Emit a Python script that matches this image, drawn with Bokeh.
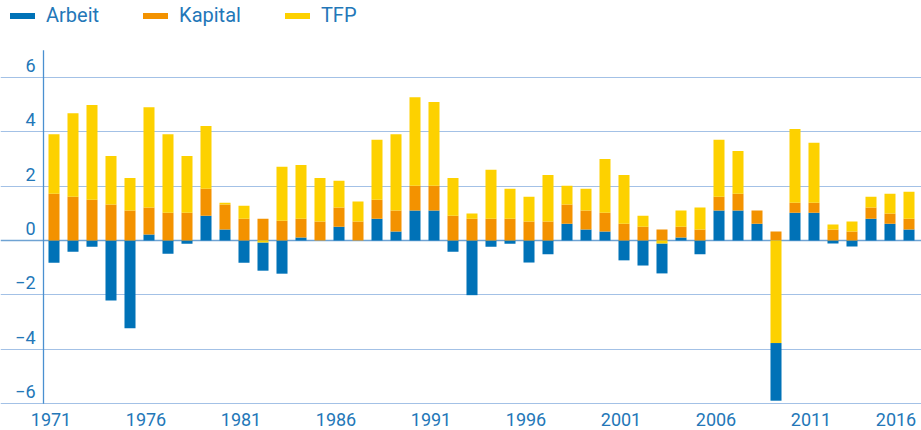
import numpy as np
from bokeh.plotting import figure
from bokeh.models import (ColumnDataSource, Range1d, FixedTicker, Grid, Legend, LegendItem)
from bokeh.core.properties import value
from bokeh.embed import file_html
from bokeh.resources import INLINE

# ---------------- data ----------------
years = list(range(1971, 2017))
arbeit = [-0.82, -0.41, -0.23, -2.21, -3.23, 0.22, -0.49, -0.12, 0.91, 0.40,
          -0.82, -1.04, -1.22, 0.11, 0.00, 0.51, 0.00, 0.80, 0.33, 1.10,
          1.10, -0.41, -2.01, -0.23, -0.12, -0.81, -0.51, 0.62, 0.40, 0.33,
          -0.73, -0.92, -1.10, 0.11, -0.51, 1.10, 1.10, 0.62, -2.12, 1.02,
          1.02, -0.11, -0.22, 0.80, 0.62, 0.40]
kapital = [1.72, 1.61, 1.50, 1.32, 1.10, 0.99, 1.02, 1.02, 0.99, 0.92,
           0.80, 0.80, 0.73, 0.69, 0.70, 0.70, 0.70, 0.70, 0.77, 0.91,
           0.91, 0.91, 0.80, 0.80, 0.80, 0.70, 0.70, 0.70, 0.70, 0.69,
           0.62, 0.51, 0.40, 0.40, 0.40, 0.51, 0.62, 0.48, 0.33, 0.37,
           0.37, 0.40, 0.33, 0.41, 0.37, 0.40]
tfp = [2.19, 3.07, 3.48, 1.79, 1.20, 3.69, 2.89, 2.09, 2.31, 0.07,
       0.48, -0.07, 1.98, 1.98, 1.60, 0.99, 0.73, 2.20, 2.81, 3.26,
       3.08, 1.39, 0.19, 1.80, 1.10, 0.91, 1.71, 0.69, 0.80, 1.98,
       1.79, 0.40, -0.11, 0.59, 0.81, 2.09, 1.57, 0.00, -3.77, 2.71,
       2.20, 0.19, 0.37, 0.40, 0.73, 0.99]
series_names = ["Arbeit", "Kapital", "TFP"]
colors = ["#0072b7", "#f39200", "#fdd100"]
y_ticks = [-6, -4, -2, 0, 2, 4, 6]
x_ticks = years[::5]
x_tick_labels = [str(y) for y in x_ticks]

TEXT = "#2377b8"
GRID = "#a3c1e6"

# ---------------- stacking ----------------
vals = {"Arbeit": np.array(arbeit), "Kapital": np.array(kapital), "TFP": np.array(tfp)}
pos_order = ["Arbeit", "Kapital", "TFP"]
neg_order = ["TFP", "Kapital", "Arbeit"]
n = len(years)
pos_cum = np.zeros(n)
neg_cum = np.zeros(n)
pb, pt, nb, nt = {}, {}, {}, {}
for s in pos_order:
    v = np.clip(vals[s], 0, None)
    pb[s] = pos_cum.copy()
    pt[s] = pos_cum + v
    pos_cum = pos_cum + v
for s in neg_order:
    v = np.clip(vals[s], None, 0)
    nt[s] = neg_cum.copy()
    nb[s] = neg_cum + v
    neg_cum = neg_cum + v
bottoms, tops = {}, {}
for s in series_names:
    isneg = vals[s] < 0
    bottoms[s] = np.where(isneg, nb[s], pb[s])
    tops[s] = np.where(isneg, nt[s], pt[s])

# ---------------- figure ----------------
FW, FH = 921, 430
px_per_year = 19.0
px_per_unit = 27.2
zero_px = 240.0
x_start = 1971 - 53.5 / px_per_year
x_end = x_start + FW / px_per_year
y_end = zero_px / px_per_unit
y_start = -(FH - zero_px) / px_per_unit

p = figure(frame_width=FW, frame_height=FH, output_backend="svg", toolbar_location=None,
           x_range=Range1d(x_start, x_end), y_range=Range1d(y_start, y_end),
           x_axis_location=None, y_axis_location=None,
           min_border_left=0, min_border_right=0, min_border_top=0, min_border_bottom=0)
p.outline_line_color = None
p.background_fill_color = "white"
for g in p.grid:
    g.grid_line_color = None

grid_left = x_start + 11 / px_per_year
grid_right = x_start + 917 / px_per_year
grid = Grid(dimension=1, ticker=FixedTicker(ticks=[t for t in y_ticks if t != 0]),
            grid_line_color=GRID, grid_line_width=1.2, bounds=(grid_left, grid_right))
p.add_layout(grid)
zgrid = Grid(dimension=1, ticker=FixedTicker(ticks=[0]),
             grid_line_color="#6fa3d3", grid_line_width=1.6, bounds=(grid_left, grid_right))
p.add_layout(zgrid)

# vertical axis line
ax_x = x_start + 43 / px_per_year
p.segment(x0=[ax_x], y0=[-6], x1=[ax_x], y1=[6.99], line_color="#4a90d0", line_width=1.3)

# bars
for s, c in zip(series_names, colors):
    src = ColumnDataSource(dict(x=years, top=tops[s], bottom=bottoms[s]))
    p.vbar(x="x", top="top", bottom="bottom", width=0.58, source=src,
           fill_color=c, line_color=None)

# y tick labels (placed above gridlines, left of axis line)
lab_x = x_start + 35 / px_per_year
ylabels = [str(t).replace("-", "\u2212") for t in y_ticks]
p.text(x=[lab_x] * len(y_ticks), y=y_ticks, text=ylabels, text_align="right",
       text_baseline="middle", y_offset=-12, text_font=value("Roboto"),
       text_font_size="18px", text_color=TEXT)

# x tick labels below the bottom gridline (last one pulled inside the edge)
xoff = [-3.0] * (len(x_ticks) - 1) + [-13.0]
xsrc = ColumnDataSource(dict(x=x_ticks, y=[min(y_ticks)] * len(x_ticks),
                             text=x_tick_labels, xoff=xoff))
p.text(x="x", y="y", text="text", source=xsrc, text_align="center",
       text_baseline="middle", x_offset="xoff", y_offset=16, text_font=value("Roboto"),
       text_font_size="18px", text_color=TEXT)

# legend with line swatches
leg_items = []
for s, c in zip(series_names, colors):
    r = p.line(x=[np.nan], y=[np.nan], line_color=c, line_width=6, line_cap="round")
    leg_items.append(LegendItem(label=s, renderers=[r]))
legend = Legend(items=leg_items, location=(10, FH - 4 - 23), orientation="horizontal",
                glyph_width=25, glyph_height=23, label_height=23, label_standoff=11, spacing=44,
                padding=0, margin=0, border_line_color=None, background_fill_alpha=0,
                label_text_font="Roboto", label_text_font_size="20px",
                label_text_color=TEXT)
p.add_layout(legend)

open("out.html", "w").write(file_html(p, INLINE))
